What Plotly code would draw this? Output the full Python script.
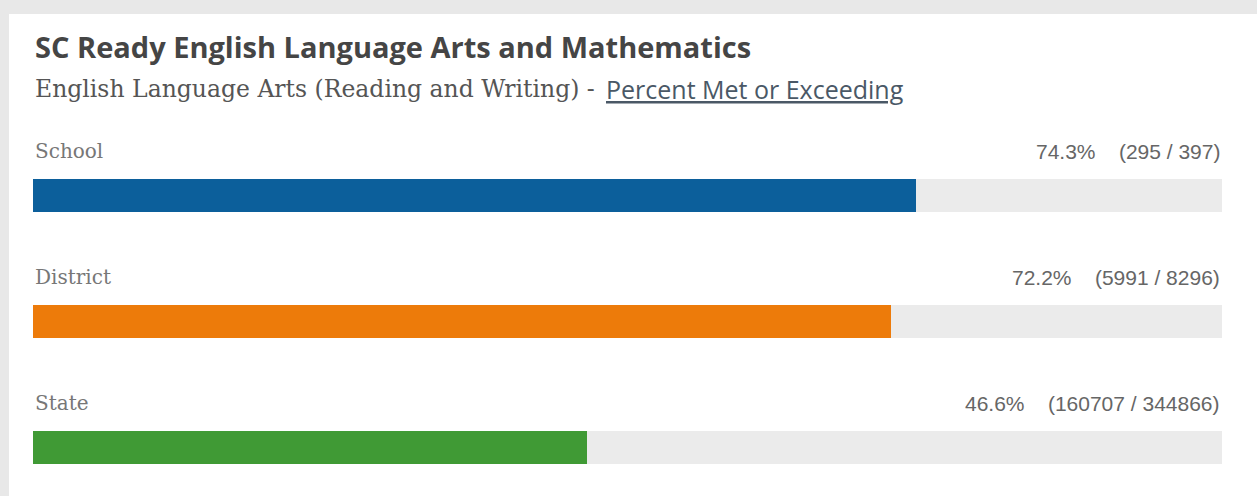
import plotly.graph_objects as go

categories = ["School", "District", "State"]
pct = [74.3, 72.2, 46.6]
met = [295, 5991, 160707]
total = [397, 8296, 344866]
scale_max = 100
colors = ["#0c5f9b", "#ed7b0a", "#409a35"]

title = "SC Ready English Language Arts and Mathematics"
subtitle_a = "English Language Arts (Reading and Writing) - "
subtitle_b = "Percent Met or Exceeding"

W, H = 1257, 496
L, R, T, B = 33, 35, 132, 0
pw = W - L - R
ph = H - T - B
row_px = 126.0
units = ph / row_px

fig = go.Figure()
fig.add_trace(go.Bar(
    y=categories, x=[scale_max] * len(categories), orientation="h",
    marker=dict(color="#ebebeb", line=dict(width=0)),
    width=33 / row_px, hoverinfo="skip", showlegend=False))
fig.add_trace(go.Bar(
    y=categories, x=pct, orientation="h",
    marker=dict(color=colors, line=dict(width=0)),
    width=33 / row_px, showlegend=False))

ann = []
for c, p, m, t in zip(categories, pct, met, total):
    ann.append(dict(x=0, y=c, xref="x", yref="y", text=c, showarrow=False,
                    xanchor="left", yanchor="middle", yshift=44,
                    font=dict(family="DejaVu Serif", size=20, color="#777777")))
    ann.append(dict(x=scale_max, y=c, xref="x", yref="y",
                    text=f"{p}%\u00a0\u00a0\u00a0\u00a0({m} / {t})", showarrow=False,
                    xanchor="right", yanchor="middle", yshift=44,
                    font=dict(family="Liberation Sans", size=21, color="#666666")))

ann.append(dict(x=0, y=1, xref="paper", yref="paper", text=f"<b>{title}</b>",
                showarrow=False, xanchor="left", yanchor="middle", yshift=132 - 46,
                font=dict(family="Open Sans", size=29, color="#454545")))
ann.append(dict(x=0, y=1, xref="paper", yref="paper", text=subtitle_a,
                showarrow=False, xanchor="left", yanchor="middle", yshift=132 - 89,
                font=dict(family="DejaVu Serif", size=23.5, color="#555555")))
ann.append(dict(x=(604 - L) / pw, y=1, xref="paper", yref="paper", text=f"<u>{subtitle_b}</u>",
                showarrow=False, xanchor="left", yanchor="middle", yshift=132 - 89,
                font=dict(family="Open Sans", size=25, color="#4a5866")))

fig.update_layout(
    width=W, height=H,
    margin=dict(l=L, r=R, t=T, b=B, pad=0),
    paper_bgcolor="#e8e8e8", plot_bgcolor="rgba(0,0,0,0)",
    barmode="overlay", bargap=0,
    xaxis=dict(range=[0, scale_max], visible=False, fixedrange=True),
    yaxis=dict(range=[-0.5 + units, -0.5], visible=False, type="category", fixedrange=True),
    annotations=ann,
    shapes=[dict(type="rect", xref="paper", yref="paper", layer="below",
                 x0=(9 - L) / pw, x1=(W + 5 - L) / pw,
                 y0=-0.1, y1=1 + (T - 14) / ph,
                 fillcolor="#ffffff", line=dict(width=0))],
)
fig.write_html("out.html", config={"displayModeBar": False},
               post_script="document.body.style.margin='0';document.body.style.overflow='hidden';")
